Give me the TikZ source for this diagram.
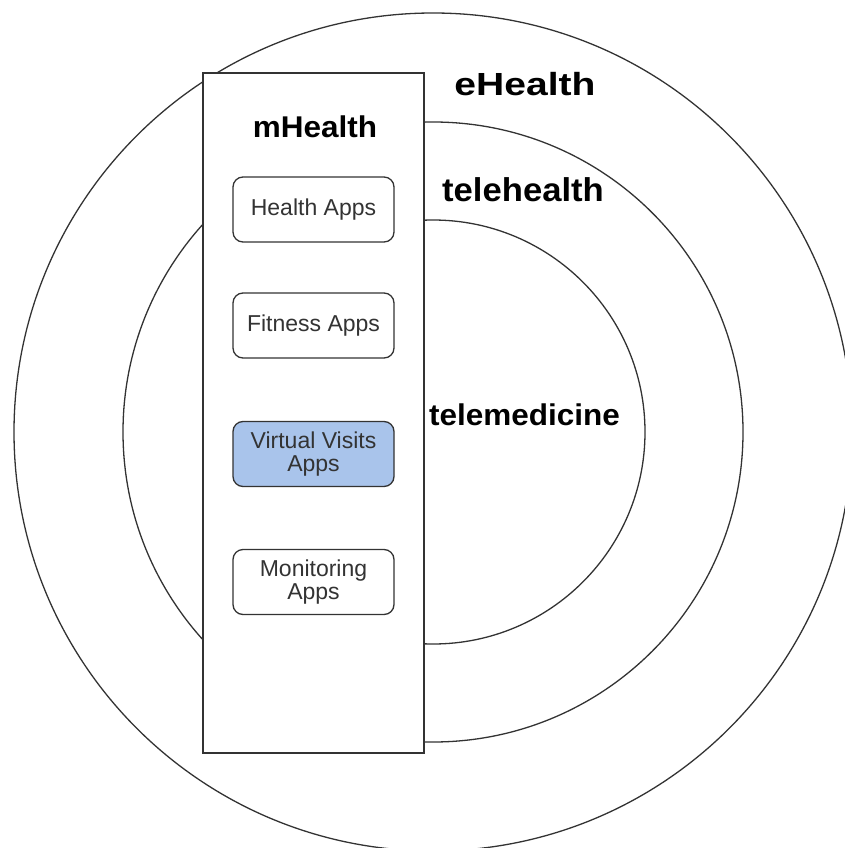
\documentclass[tikz,border=0pt]{standalone}
\usepackage{fontspec}
\setmainfont{Liberation Sans}
\newfontfamily\lblfont[FakeStretch=1.05]{Liberation Sans}
\newfontfamily\widefont[FakeStretch=1.22]{Liberation Sans}
\definecolor{linec}{HTML}{333333}
\definecolor{txtc}{HTML}{333333}
\definecolor{bluefill}{HTML}{A9C4EB}
\begin{document}
\begin{tikzpicture}[x=1pt,y=-1pt,
  ring/.style={draw=linec,line width=1.3pt},
  titletext/.style={anchor=base,inner sep=0pt,font=\lblfont\bfseries\fontsize{30}{36}\selectfont},
  apptext/.style={draw=linec,line width=1.3pt,rounded corners=10pt,fill=white,
     minimum width=161pt,minimum height=65pt,inner sep=0pt,align=center,
     text=txtc,font=\fontsize{23}{23.5}\selectfont},
  panel/.style={draw=linec,line width=1.6pt,fill=white,minimum width=221pt,minimum height=680pt,inner sep=0pt}]
\useasboundingbox (0,0) rectangle (845,848);
\begin{scope}
\clip (0,0) rectangle (845,848);
\draw[ring] (433,432) circle[radius=419pt];
\draw[ring] (433,432) circle[radius=310pt];
\draw[ring] (433,432) circle[radius=212pt];
\end{scope}
\node[panel] (mh) at (313.5,413) {};
\node[titletext] (mhl) at (315,138) {mHealth};
\node[titletext,font=\widefont\bfseries\fontsize{32}{36}\selectfont] (ehl) at (525,96) {eHealth};
\node[titletext,font=\lblfont\bfseries\fontsize{33}{38}\selectfont] (thl) at (523,201.5) {telehealth};
\node[titletext] (tml) at (524.5,425) {telemedicine};
\node[apptext] (ha) at (313.5,209.5) {Health Apps};
\node[apptext] (fa) at (313.5,325.5) {Fitness Apps};
\node[apptext,fill=bluefill] (va) at (313.5,454) {Virtual Visits\\Apps};
\node[apptext] (ma) at (313.5,582) {Monitoring\\Apps};
\end{tikzpicture}
\end{document}
